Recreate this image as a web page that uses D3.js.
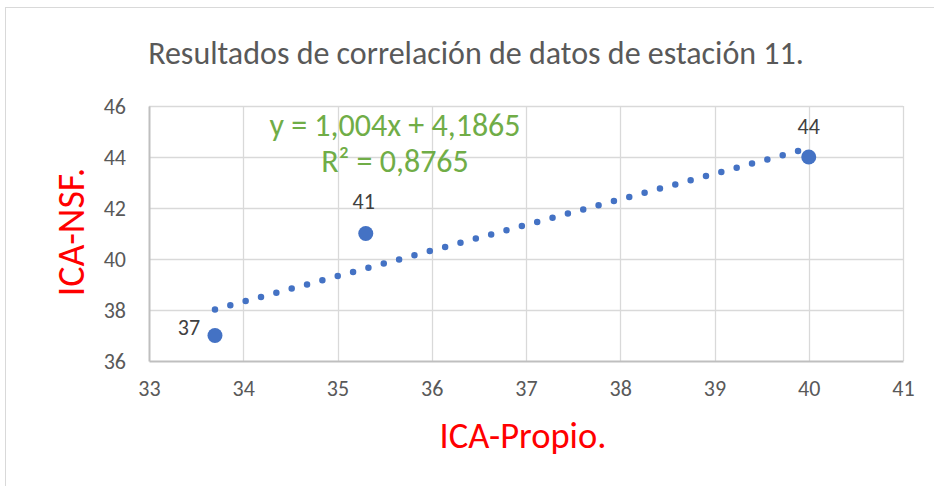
<!DOCTYPE html>
<html>
<head>
<meta charset="utf-8">
<script src="https://cdn.jsdelivr.net/npm/d3@7"></script>
<style>
  html, body { margin: 0; padding: 0; background: #fff; }
  svg { display: block; }
  text { font-family: Carlito, "Liberation Sans Narrow", "Open Sans", sans-serif; }
</style>
</head>
<body>
<script>
// Station 11: own index (ICA-Propio) vs. NSF index (ICA-NSF)
const icaPropio = [33.7, 35.3, 40];
const icaNSF = [37, 41, 44];
const xTicks = [33, 34, 35, 36, 37, 38, 39, 40, 41];
const yTicks = [36, 38, 40, 42, 44, 46];
const trendSlope = 1.004;
const trendIntercept = 4.1865;
const rSquared = 0.8765;

const W = 934, H = 486;
const svg = d3.select("body").append("svg").attr("width", W).attr("height", H);

// chart-area frame
svg.append("rect").attr("x", 5.5).attr("y", 7.5).attr("width", W + 10).attr("height", H + 10)
  .attr("fill", "#fff").attr("stroke", "#d9d9d9").attr("stroke-width", 1);

const x = d3.scaleLinear().domain([33, 41]).range([149, 903]);
const y = d3.scaleLinear().domain([36, 46]).range([361, 106]);

// gridlines
const grid = svg.append("g");
grid.selectAll(".gx").data(xTicks.slice(1)).join("line")
  .attr("x1", d => Math.round(x(d)) + 0.5).attr("x2", d => Math.round(x(d)) + 0.5)
  .attr("y1", y(46)).attr("y2", y(36))
  .attr("stroke", "#d9d9d9").attr("stroke-width", 1.3);
grid.selectAll(".gy").data(yTicks.slice(1)).join("line")
  .attr("y1", d => Math.round(y(d)) + 0.5).attr("y2", d => Math.round(y(d)) + 0.5)
  .attr("x1", x(33)).attr("x2", x(41))
  .attr("stroke", "#d9d9d9").attr("stroke-width", 1.3);

// axes
const xAxis = svg.append("g").attr("transform", `translate(0,${y(36)})`)
  .call(d3.axisBottom(x).tickValues(xTicks).tickSize(0).tickPadding(15).tickFormat(d3.format("d")));
const yAxis = svg.append("g").attr("transform", `translate(${x(33)},0)`)
  .call(d3.axisLeft(y).tickValues(yTicks).tickSize(0).tickPadding(23).tickFormat(d3.format("d")));
[xAxis, yAxis].forEach(a => {
  a.select(".domain").attr("stroke", "#bfbfbf").attr("stroke-width", 2);
  a.selectAll("text").attr("fill", "#595959").style("font-size", "22px");
});
xAxis.selectAll("text").attr("dy", "0.9em");

// linear trendline (dotted)
const x0 = d3.min(icaPropio), x1 = d3.max(icaPropio);
svg.append("line")
  .attr("x1", x(x0)).attr("y1", y(trendSlope * x0 + trendIntercept))
  .attr("x2", x(x1)).attr("y2", y(trendSlope * x1 + trendIntercept))
  .attr("stroke", "#4472c4").attr("stroke-width", 6.5)
  .attr("stroke-linecap", "round").attr("stroke-dasharray", "0 15.9");

// data points
const pts = icaPropio.map((v, i) => ({ x: v, y: icaNSF[i] }));
svg.selectAll(".pt").data(pts).join("circle")
  .attr("cx", d => x(d.x)).attr("cy", d => y(d.y)).attr("r", 7.5)
  .attr("fill", "#4472c4");

// value labels
const labelOffsets = [[-26, -1], [-2, -25], [0, -23]];
svg.selectAll(".lbl").data(pts).join("text")
  .attr("x", (d, i) => x(d.x) + labelOffsets[i][0])
  .attr("y", (d, i) => y(d.y) + labelOffsets[i][1])
  .attr("text-anchor", "middle")
  .attr("fill", "#404040").style("font-size", "22px")
  .text(d => d.y);

// trendline equation
const fmt = v => String(v).replace(".", ",");
const eq = svg.append("g").attr("fill", "#70ad47").style("font-size", "32px");
eq.append("text").attr("x", 395).attr("y", 136).attr("text-anchor", "middle")
  .text(`y = ${fmt(trendSlope)}x + ${fmt(trendIntercept)}`);
eq.append("text").attr("x", 395).attr("y", 172).attr("text-anchor", "middle")
  .text(`R² = ${fmt(rSquared)}`);

// title
svg.append("text").attr("x", 476).attr("y", 64).attr("text-anchor", "middle")
  .attr("fill", "#595959").style("font-size", "32px")
  .text("Resultados de correlación de datos de estación 11.");

// axis titles
svg.append("text").attr("x", 523).attr("y", 448).attr("text-anchor", "middle")
  .attr("fill", "#ff0000").style("font-size", "36.5px").text("ICA-Propio.");
svg.append("text").attr("transform", "translate(84,232) rotate(-90)").attr("text-anchor", "middle")
  .attr("fill", "#ff0000").style("font-size", "38px").text("ICA-NSF.");
</script>
</body>
</html>
